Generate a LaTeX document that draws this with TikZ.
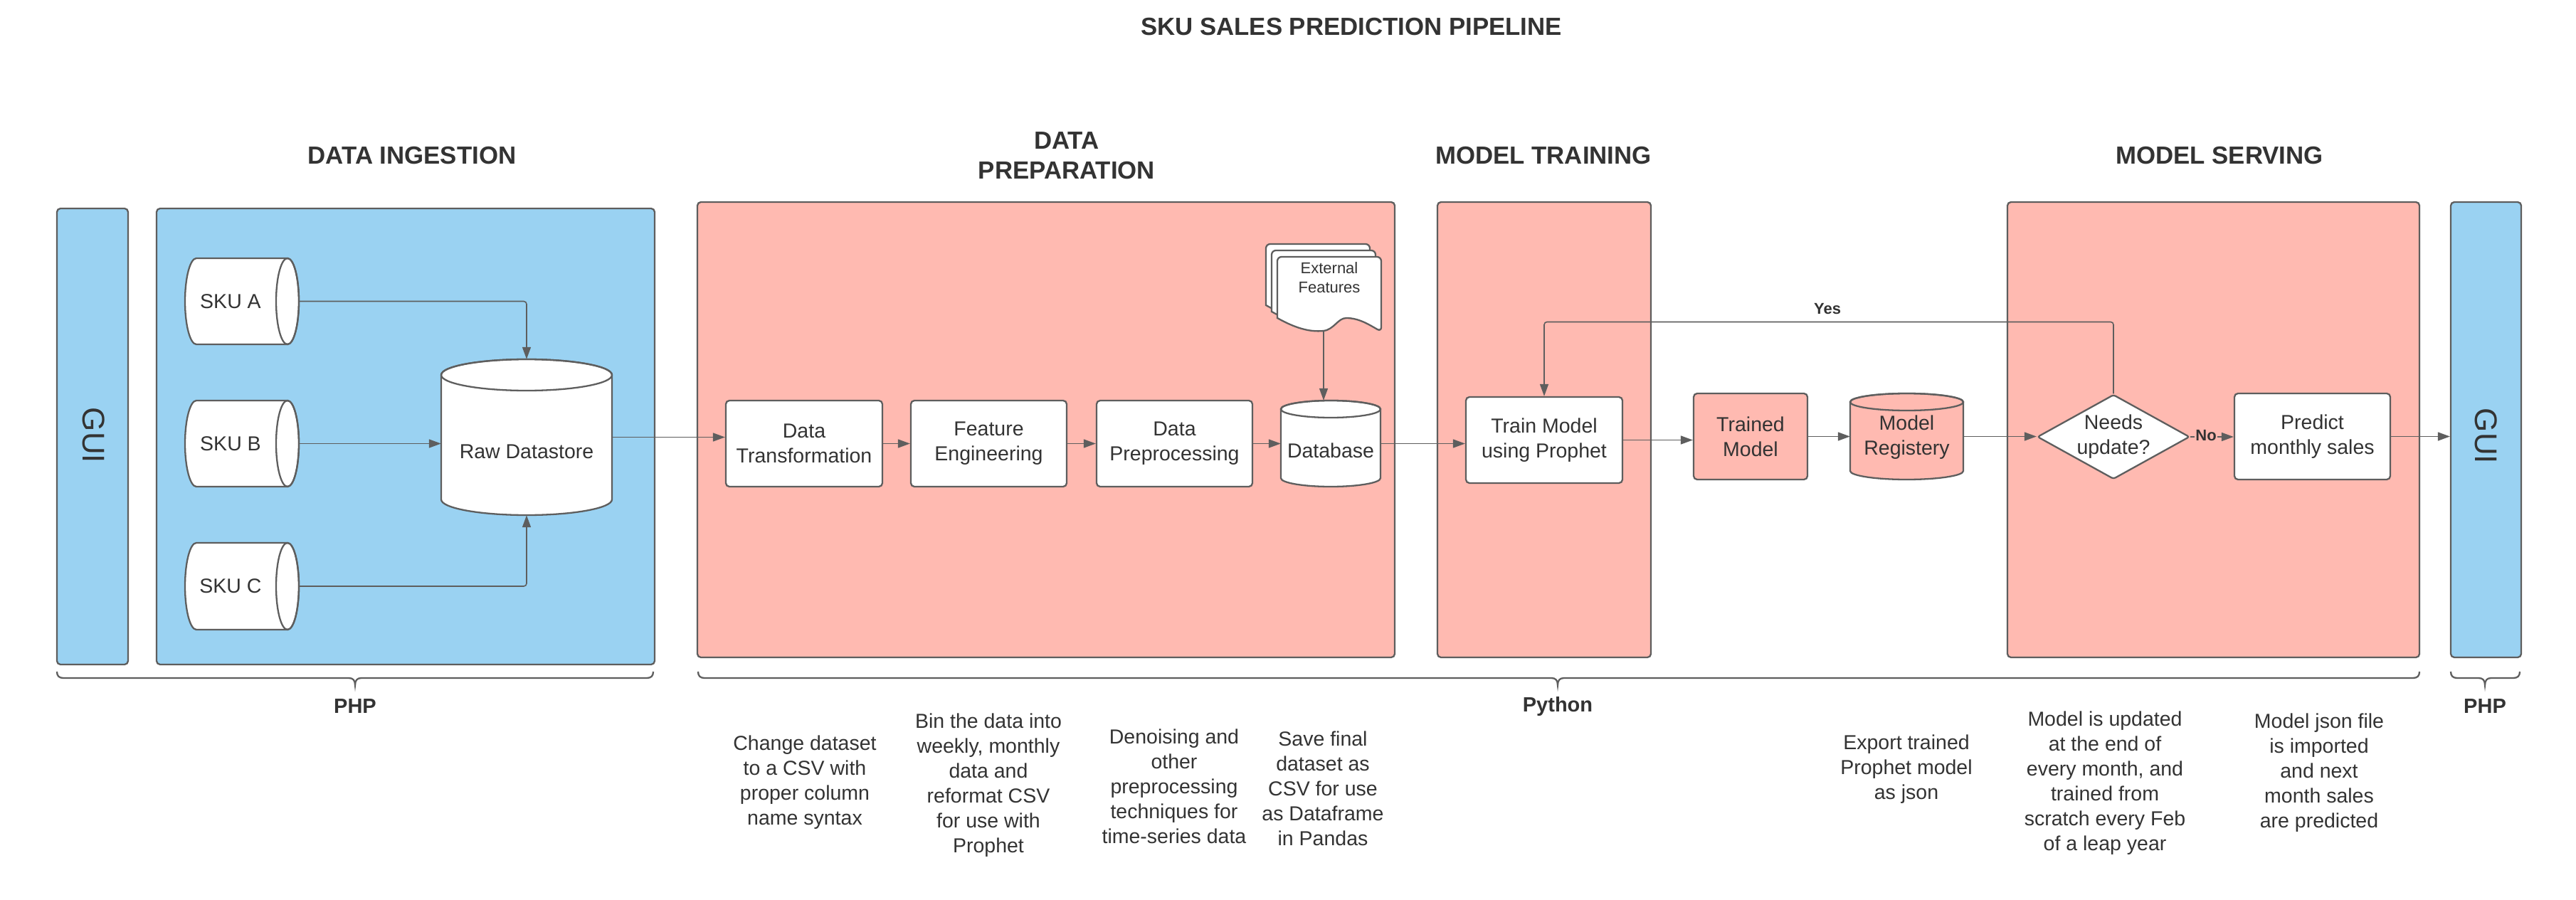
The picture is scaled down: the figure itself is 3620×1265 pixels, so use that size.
\documentclass[tikz,border=0pt]{standalone}
\usepackage{fontspec}
\setmainfont{Liberation Sans}
\usetikzlibrary{arrows.meta,shapes.geometric}
\definecolor{lblue}{HTML}{9AD2F2}
\definecolor{lpink}{HTML}{FFBAB1}
\definecolor{bord}{HTML}{5E5E5E}
\definecolor{txt}{HTML}{333333}
\newcommand\fnode{\fontsize{28.5}{35}\selectfont}
\newcommand\fhead{\fontsize{34.8}{42.5}\selectfont\bfseries}
\newcommand\fsmall{\fontsize{22}{27}\selectfont}
\newcommand\flab{\fontsize{22}{27}\selectfont\bfseries}
\newcommand\flang{\fontsize{29}{35}\selectfont\bfseries}
\newcommand\fgui{\fontsize{44}{50}\selectfont}
% horizontal cylinder, face on the right: x1 x2 ytop ybottom (pixels, y downwards)
\newcommand\hcyl[4]{%
  \pgfmathsetmacro\hry{(#4-#3)/2}%
  \pgfmathsetmacro\hcy{-(#3+#4)/2}%
  \filldraw[shp, fill=white] (#2-16,-#3) -- (#1+16,-#3)
    arc[start angle=90, end angle=270, x radius=16, y radius=\hry]
    -- (#2-16,-#4)
    arc[start angle=-90, end angle=90, x radius=16, y radius=\hry] -- cycle;
  \draw[shp] (#2-16,\hcy) ellipse[x radius=16, y radius=\hry];
}
% vertical cylinder: x1 x2 ytop ybottom ry fill
\newcommand\vcyl[6]{%
  \pgfmathsetmacro\vrx{(#2-#1)/2}%
  \pgfmathsetmacro\vcx{(#1+#2)/2}%
  \pgfmathsetmacro\vta{-#3-#5}%
  \pgfmathsetmacro\vba{-#4+#5}%
  \filldraw[shp, fill=#6] (#1,\vta) -- (#1,\vba)
    arc[start angle=180, end angle=360, x radius=\vrx, y radius=#5]
    -- (#2,\vta)
    arc[start angle=0, end angle=180, x radius=\vrx, y radius=#5] -- cycle;
  \draw[shp] (\vcx,\vta) ellipse[x radius=\vrx, y radius=#5];
}
% document page: x y (top-left, pixels, y downwards)
\newcommand\docpage[2]{%
  \filldraw[shp, fill=white] (#1,-#2-40) [rounded corners=6pt] -- (#1,-#2) -- (#1+146,-#2)
    -- (#1+146,-#2-105) [sharp corners]
    .. controls (#1+130,-#2-96) and (#1+115,-#2-86) .. (#1+97,-#2-86)
    .. controls (#1+85,-#2-86) and (#1+80,-#2-102) .. (#1+65,-#2-104)
    .. controls (#1+45,-#2-106) and (#1+25,-#2-100) .. (#1,-#2-86) -- cycle;
}
% brace: xstart xtip xend
\newcommand\hbrace[3]{%
  \draw[brc] (#1,-944) .. controls (#1,-950) and (#1+3,-953) .. (#1+9,-953)
    -- (#2-9,-953) .. controls (#2-3,-953) and (#2,-956) .. (#2,-963)
    .. controls (#2,-956) and (#2+3,-953) .. (#2+9,-953)
    -- (#3-9,-953) .. controls (#3-3,-953) and (#3,-950) .. (#3,-944);
}
\tikzset{
  lane/.style={draw=bord, line width=2.3pt, rounded corners=5pt, inner sep=0pt},
  proc/.style={draw=bord, line width=2.3pt, rounded corners=5pt, fill=white,
    align=center, font=\fnode, text=txt, inner sep=0pt},
  ghost/.style={inner sep=0pt},
  shp/.style={draw=bord, line width=2.3pt},
  conn/.style={draw=bord, line width=1.6pt, rounded corners=4pt,
    -{Triangle[length=17pt,width=12pt]}},
  lbl/.style={text=txt, align=center, inner sep=0pt},
  brc/.style={draw=bord, line width=2.3pt},
}
\begin{document}
\begin{tikzpicture}[x=1pt,y=1pt]
\useasboundingbox (0,0) rectangle (3620,-1265);
\fill[white] (0,0) rectangle (3620,-1265);

% titles
\node[lbl, font=\fhead] (ttl) at (1899,-37.5) {SKU SALES PREDICTION PIPELINE};
\node[lbl, font=\fhead] (hdi) at (579,-219) {DATA INGESTION};
\node[lbl, font=\fhead] (hdp) at (1499,-218.6) {DATA\\PREPARATION};
\node[lbl, font=\fhead] (hmt) at (2169,-219) {MODEL TRAINING};
\node[lbl, font=\fhead] (hms) at (3119,-219) {MODEL SERVING};

% lanes
\node[lane, fill=lblue, minimum width=100pt, minimum height=641pt] (guil) at (130,-613.5) {};
\node[lane, fill=lblue, minimum width=700pt, minimum height=641pt] (di) at (570,-613.5) {};
\node[lane, fill=lpink, minimum width=980pt, minimum height=640pt] (dp) at (1470,-604) {};
\node[lane, fill=lpink, minimum width=300pt, minimum height=640pt] (mt) at (2170,-604) {};
\node[lane, fill=lpink, minimum width=579pt, minimum height=640pt] (ms) at (3110.5,-604) {};
\node[lane, fill=lblue, minimum width=99pt, minimum height=640pt] (guir) at (3493.5,-604) {};
\node[lbl, font=\fgui, rotate=-90] (guilt) at (132,-612) {GUI};
\node[lbl, font=\fgui, rotate=-90] (guirt) at (3494,-613) {GUI};

% anchor boxes of drawn shapes
\node[ghost, minimum width=160pt, minimum height=121pt] (skua) at (340,-423.5) {};
\node[ghost, minimum width=160pt, minimum height=121pt] (skub) at (340,-623.5) {};
\node[ghost, minimum width=160pt, minimum height=122pt] (skuc) at (340,-824) {};
\node[ghost, minimum width=240pt, minimum height=219pt] (raw) at (740,-614.5) {};
\node[ghost, minimum width=140pt, minimum height=121pt] (db) at (1870,-623.5) {};
\node[ghost, minimum width=159pt, minimum height=121pt] (reg) at (2679.5,-613.5) {};
\coordinate (extbot) at (1860,-465);

% connectors in the ingestion lane
\draw[conn] (skua.east) -| (raw.north);
\draw[conn] (skub.east) -- (skub.east -| raw.west);
\draw[conn] (skuc.east) -| (raw.south);
\draw[conn] (extbot) -- (extbot |- db.north);

% shapes
\hcyl{260}{420}{363}{484}
\hcyl{260}{420}{563}{684}
\hcyl{260}{420}{763}{885}
\node[lbl, font=\fnode] (skuat) at (324,-423.5) {SKU A};
\node[lbl, font=\fnode] (skubt) at (324,-623.5) {SKU B};
\node[lbl, font=\fnode] (skuct) at (324,-824) {SKU C};
\vcyl{620}{860}{505}{724}{22}{white}
\node[lbl, font=\fnode] (rawt) at (740,-635) {Raw Datastore};

\node[proc, minimum width=220pt, minimum height=121pt] (dt) at (1130,-623.5) {Data\\Transformation};
\node[proc, minimum width=219pt, minimum height=121pt] (fe) at (1389.5,-623.5) {Feature\\Engineering};
\node[proc, minimum width=219pt, minimum height=121pt] (dpp) at (1650.5,-623.5) {Data\\Preprocessing};
\vcyl{1800}{1940}{563}{684}{12}{white}
\node[lbl, font=\fnode] (dbt) at (1870,-633) {Database};
\docpage{1779}{343}
\docpage{1787}{352}
\docpage{1795}{361}
\node[lbl, font=\fsmall] (ext) at (1868,-390.5) {External\\Features};

\node[proc, minimum width=220pt, minimum height=121pt] (train) at (2170,-618.5) {Train Model\\using Prophet};
\node[proc, fill=lpink, minimum width=160pt, minimum height=121pt] (trained) at (2460,-613.5) {Trained\\Model};
\vcyl{2600}{2759}{553}{674}{12}{lpink}
\node[lbl, font=\fnode] (regt) at (2679.5,-615) {Model\\Registery};
\node[proc, shape=diamond, aspect=1.8, rounded corners=3pt, minimum width=214pt, minimum height=118pt] (dia) at (2970,-614) {Needs\\update?};
\node[proc, minimum width=219pt, minimum height=121pt] (pred) at (3249.5,-613.5) {Predict\\monthly sales};

\draw[conn] (raw.east) -- (raw.east -| dt.west);
\draw[conn] (dt.east) -- (fe.west);
\draw[conn] (fe.east) -- (dpp.west);
\draw[conn] (dpp.east) -- (dpp.east -| db.west);
\draw[conn] (db.east) -- (db.east -| train.west);
\draw[conn] (train.east) -- (train.east -| trained.west);
\draw[conn] (trained.east) -- (reg.west);
\draw[conn] (reg.east) -- (reg.east -| dia.west);
\draw[conn] (dia.north) -- ++(0,101) -| (train.north);
\draw[conn] (dia.east) -- (dia.east -| pred.west);
\draw[conn] (pred.east) -- (pred.east -| guir.west);
\node[lbl, font=\flab] (yes) at (2568,-434) {Yes};
\node[lbl, font=\flab, fill=lpink, inner sep=1pt] (no) at (3100,-612) {No};

% braces and languages
\hbrace{80}{499}{918}
\hbrace{981}{2189}{3400}
\hbrace{3444}{3492}{3541}
\node[lbl, font=\flang] (php1) at (499,-993) {PHP};
\node[lbl, font=\flang] (py) at (2189,-993) {Python};
\node[lbl, font=\flang] (php2) at (3492,-993) {PHP};

% notes
\node[lbl, font=\fnode] (n1) at (1131,-1099.5) {Change dataset\\to a CSV with\\proper column\\name syntax};
\node[lbl, font=\fnode] (n2) at (1389,-1103.5) {Bin the data into\\weekly, monthly\\data and\\reformat CSV\\for use with\\Prophet};
\node[lbl, font=\fnode] (n3) at (1650,-1105.5) {Denoising and\\other\\preprocessing\\techniques for\\time-series data};
\node[lbl, font=\fnode] (n4) at (1859,-1108.5) {Save final\\dataset as\\CSV for use\\as Dataframe\\in Pandas};
\node[lbl, font=\fnode] (n5) at (2679,-1081.5) {Export trained\\Prophet model\\as json};
\node[lbl, font=\fnode] (n6) at (2958,-1100.5) {Model is updated\\at the end of\\every month, and\\trained from\\scratch every Feb\\of a leap year};
\node[lbl, font=\fnode] (n7) at (3259,-1086) {Model json file\\is imported\\and next\\month sales\\are predicted};
\end{tikzpicture}
\end{document}
